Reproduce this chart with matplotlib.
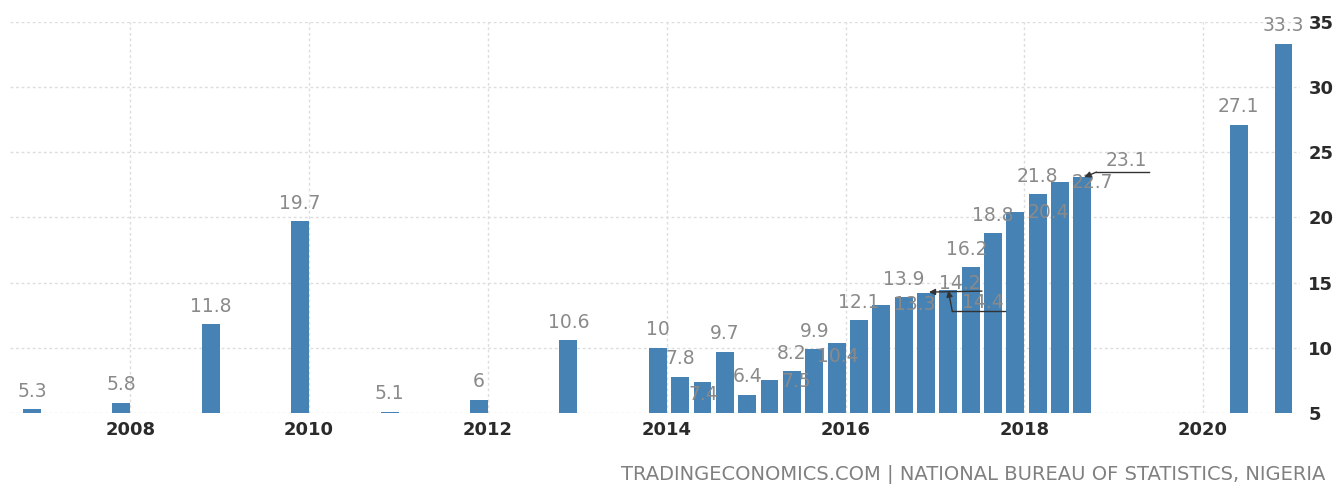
import matplotlib
matplotlib.use("Agg")
import matplotlib.pyplot as plt
from matplotlib.transforms import IdentityTransform

# ---- data ----
periods = ['2006', '2007', '2008', '2009', '2010', '2011', '2012', '2013',
           '2014Q1', '2014Q2', '2014Q3', '2014Q4',
           '2015Q1', '2015Q2', '2015Q3', '2015Q4',
           '2016Q1', '2016Q2', '2016Q3', '2016Q4',
           '2017Q1', '2017Q2', '2017Q3', '2017Q4',
           '2018Q1', '2018Q2', '2018Q3',
           '2020Q2', '2020Q4']
values = [5.3, 5.8, 11.8, 19.7, 5.1, 6, 10.6, 10,
          7.8, 7.4, 9.7, 6.4,
          7.5, 8.2, 9.9, 10.4,
          12.1, 13.3, 13.9, 14.2,
          14.4, 16.2, 18.8, 20.4,
          21.8, 22.7, 23.1,
          27.1, 33.3]
x_ticks = [2008, 2010, 2012, 2014, 2016, 2018, 2020]
y_ticks = [5, 10, 15, 20, 25, 30, 35]
source = "TRADINGECONOMICS.COM | NATIONAL BUREAU OF STATISTICS, NIGERIA"


def period_end(p):
    if 'Q' in p:
        yr, q = p.split('Q')
        return int(yr) + int(q) / 4.0
    return int(p) + 1.0


# bars are drawn slightly before the period end, as on the source chart
xpos = [period_end(p) - 0.10 for p in periods]

# ---- label layout (pixel offsets from bar top; styling only) ----
label_offsets = {
    '2014Q2': (1, -13),
    '2015Q1': (27, -1),
    '2015Q4': (1, -14),
    '2016Q2': (33, 0),
    '2016Q4': (34, 10),
    '2017Q1': (35, -12),
    '2017Q2': (-4, 18),
    '2017Q4': (33, 0),
    '2018Q2': (32, 0),
    '2018Q3': (44, 17),
    '2020Q4': (0, 19),
}
# connector polylines (pixel offsets from bar top; first point is the arrow tip)
connectors = {
    '2016Q4': [(3, 1), (56, 2)],
    '2017Q1': [(0, 0), (4, -21), (57, -21)],
    '2018Q3': [(2, 0), (14, 5), (67, 5)],
}

BAR = '#4682B4'
LABEL = '#8a8a8a'
GRID = '#dddddd'

fig = plt.figure(figsize=(13.38, 4.84), dpi=100)
ax = fig.add_axes([10 / 1338, 71 / 484, 1290 / 1338, 391 / 484])

ax.bar(xpos, values, width=0.2, color=BAR, zorder=2)
ax.set_xlim(2006.654, 2021.084)
ax.set_ylim(5, 35)

ax.set_xticks(x_ticks)
ax.set_xticklabels([str(t) for t in x_ticks])
ax.set_yticks(y_ticks)
ax.set_yticklabels([str(t) for t in y_ticks])
ax.yaxis.tick_right()
ax.tick_params(axis='both', length=0, labelsize=13, colors='#2a2a2a')
ax.tick_params(axis='x', pad=6)
ax.tick_params(axis='y', pad=6)
for lab in ax.get_yticklabels() + ax.get_xticklabels():
    lab.set_fontweight('bold')
for lab in ax.get_yticklabels():
    lab.set_horizontalalignment('left')

ax.grid(True, color=GRID, linestyle=(0, (2, 2)), linewidth=1, zorder=0)
ax.set_axisbelow(True)
for s in ax.spines.values():
    s.set_visible(False)

for p, x, v in zip(periods, xpos, values):
    dx, dy = label_offsets.get(p, (0, 18))
    txt = ('%g' % v)
    ax.annotate(txt, xy=(x, v), xytext=(dx, dy), textcoords='offset pixels',
                ha='center', va='center', fontsize=13.5, color=LABEL, zorder=4,
                annotation_clip=False)

for p, pts in connectors.items():
    i = periods.index(p)
    bx, by = ax.transData.transform((xpos[i], values[i]))
    disp = [(bx + ox, by + oy) for ox, oy in pts]
    xs = [d[0] for d in disp]
    ys = [d[1] for d in disp]
    ax.plot(xs[1:], ys[1:], color='#333333', lw=1, transform=IdentityTransform(),
            clip_on=False, zorder=5)
    ax.annotate('', xy=disp[0], xycoords='figure pixels', xytext=disp[1],
                textcoords='figure pixels',
                arrowprops=dict(arrowstyle='-|>', color='#333333', lw=1,
                                mutation_scale=9, shrinkA=0, shrinkB=0),
                zorder=5)

fig.text(1325 / 1338, 10 / 484, source, ha='right', va='center',
         fontsize=14, color='#808080')

fig.savefig('out.png', dpi=100)
